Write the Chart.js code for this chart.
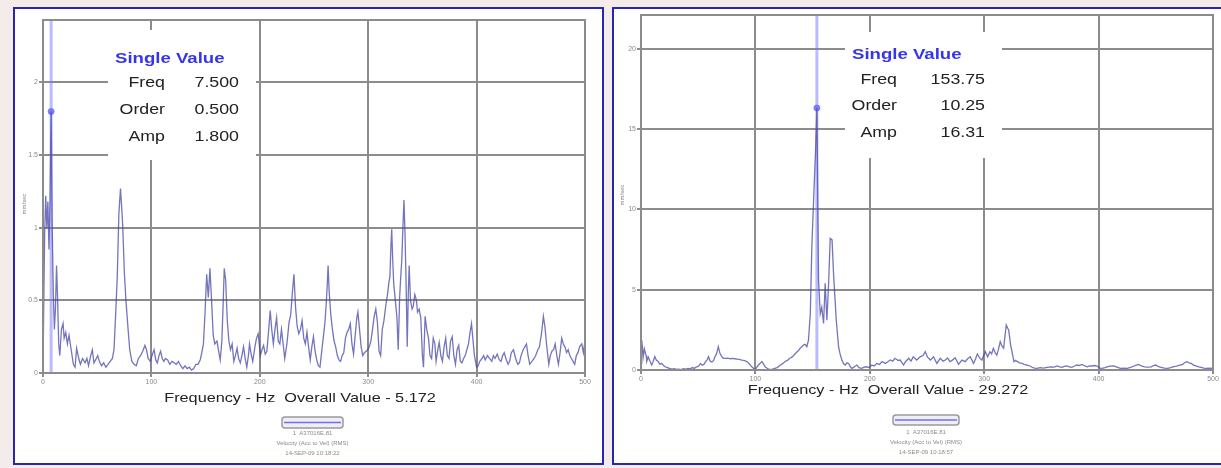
<!DOCTYPE html>
<html>
<head>
<meta charset="utf-8">
<script src="https://cdn.jsdelivr.net/npm/chart.js@4.4.1/dist/chart.umd.min.js"></script>
<style>
  html, body { margin: 0; padding: 0; width: 1221px; height: 468px; overflow: hidden; background: #f3ecea; }
  .panel { position: absolute; box-sizing: border-box; border: 2px solid #2828a8; background: #ffffff; }
  #panelLeft  { left: 13px;  top: 7px; width: 591px; height: 458px; }
  #panelRight { left: 612px; top: 7px; width: 612px; height: 458px; }
  canvas { position: absolute; left: 0; top: 0; }
</style>
</head>
<body>
<div class="panel" id="panelLeft"><canvas id="spectrumLeft" width="587" height="454"></canvas></div>
<div class="panel" id="panelRight"><canvas id="spectrumRight" width="608" height="454"></canvas></div>

<script>
// ---- Spectrum 1 (14-SEP-09 10:18:22): frequency (Hz) and amplitude (mm/sec) vertices ----
const leftFreq = [
  0, 1.5, 2.5, 3.5, 4.5, 5.5, 6.5, 7.5, 8.5, 9.5, 10.5, 11.5, 12.5, 13.5, 14.5, 15.5, 17, 18.5, 19.5, 21,
  22.5, 24, 26, 28, 29.6, 31, 33, 34.5, 36.5, 38.8, 40.5, 42, 44, 45.5, 47, 48.5, 50.5, 52, 54, 56,
  58, 60, 62, 64, 65.5, 67, 68.5, 70, 71.5, 72.5, 73.5, 75, 76.5, 78.5, 80, 82, 84, 86, 88, 90,
  92, 94, 95.5, 97, 99, 101, 102.5, 104, 105.5, 107, 108.5, 110, 111.5, 113, 115, 117, 119, 121, 123, 125,
  127, 129, 131, 133, 135, 137, 139, 141, 143, 145, 146.5, 148, 149.5, 151, 152.5, 154, 155.5, 157, 158.5, 160.5,
  162, 163.5, 165, 166.3, 167.2, 168.5, 170, 171.5, 173, 174.5, 176, 177.5, 179, 180.5, 182, 183.5, 185, 186.5, 188, 189.5,
  190.5, 192, 193.5, 195.5, 197, 198.5, 200.5, 202, 203.5, 205, 206.5, 208, 209.6, 211, 212.5, 214, 215.5, 217, 218.5, 220,
  221.5, 223, 225, 227, 228.5, 230, 231.5, 233, 234.5, 236, 237.5, 239, 240.5, 242, 243.5, 245, 246.5, 248, 249.5, 251,
  252.5, 254, 255.5, 257, 258.5, 260, 261.3, 262.3, 263, 264, 265.5, 267, 268.5, 270, 271.5, 273, 274.5, 276, 277.5, 279,
  280.5, 282, 283.5, 285, 286.5, 288, 289.5, 290.5, 292, 293.5, 295, 296.5, 298, 299.5, 301, 302.5, 304, 305.5, 307, 308.5,
  310, 311.5, 313, 314.5, 316.5, 318, 319, 320, 321, 321.7, 322.5, 323.5, 325, 326.5, 327.7, 329, 330, 331, 332, 333,
  334, 335, 336, 337, 337.8, 339, 340.5, 341.6, 343, 344.5, 345.5, 347, 348.5, 350, 351, 352.5, 354, 355.6, 357, 358.5,
  360, 361.5, 362.6, 364, 365.5, 367, 368.5, 370, 371.5, 373, 374.5, 376, 377.5, 379, 380.5, 382, 383.5, 385, 386.5, 388,
  389.5, 391, 392.5, 394, 395.3, 396.5, 398, 400, 401.5, 403, 405, 406.5, 408, 410, 412, 414, 415.5, 417, 419, 421,
  422.5, 424, 425.5, 427, 429, 430.5, 432, 434, 436, 438, 439.5, 441, 443, 444.5, 446, 447.5, 449, 451, 453, 454.5,
  456.5, 458, 460, 461.6, 463, 464.5, 466.6, 468, 469.5, 471, 472.5, 474, 475.5, 477, 478.5, 480, 481.5, 483, 484.5, 486,
  487.5, 489, 490.5, 492, 493.5, 495, 497, 498.5, 500
];
const leftAmp = [
  0.05, 0.95, 1.22, 1.0, 1.18, 0.85, 1.2, 1.8, 1.0, 0.55, 0.3, 0.45, 0.74, 0.5, 0.2, 0.12, 0.3, 0.34, 0.24, 0.28,
  0.2, 0.26, 0.16, 0.06, 0.04, 0.17, 0.1, 0.06, 0.1, 0.07, 0.1, 0.05, 0.12, 0.16, 0.07, 0.09, 0.12, 0.08, 0.05, 0.07,
  0.04, 0.06, 0.08, 0.1, 0.16, 0.4, 0.66, 1.1, 1.27, 1.15, 1.02, 0.7, 0.5, 0.3, 0.16, 0.08, 0.06, 0.05, 0.1, 0.12,
  0.15, 0.19, 0.16, 0.1, 0.08, 0.13, 0.16, 0.09, 0.07, 0.12, 0.15, 0.1, 0.08, 0.1, 0.09, 0.06, 0.08, 0.07, 0.06, 0.08,
  0.05, 0.03, 0.05, 0.03, 0.04, 0.02, 0.03, 0.06, 0.06, 0.09, 0.14, 0.2, 0.42, 0.68, 0.52, 0.72, 0.5, 0.26, 0.2, 0.22,
  0.15, 0.09, 0.22, 0.5, 0.72, 0.64, 0.36, 0.22, 0.16, 0.2, 0.08, 0.12, 0.17, 0.1, 0.07, 0.12, 0.18, 0.1, 0.04, 0.12,
  0.2, 0.13, 0.08, 0.18, 0.24, 0.27, 0.12, 0.16, 0.19, 0.13, 0.15, 0.28, 0.43, 0.3, 0.2, 0.3, 0.38, 0.22, 0.2, 0.3,
  0.2, 0.1, 0.2, 0.35, 0.4, 0.55, 0.68, 0.45, 0.32, 0.27, 0.3, 0.36, 0.24, 0.2, 0.28, 0.18, 0.09, 0.18, 0.25, 0.15,
  0.09, 0.05, 0.04, 0.14, 0.24, 0.34, 0.48, 0.62, 0.74, 0.56, 0.4, 0.3, 0.22, 0.18, 0.12, 0.09, 0.08, 0.12, 0.14, 0.24,
  0.28, 0.3, 0.34, 0.2, 0.13, 0.26, 0.38, 0.42, 0.3, 0.18, 0.12, 0.14, 0.15, 0.16, 0.18, 0.22, 0.3, 0.39, 0.44, 0.35,
  0.15, 0.12, 0.3, 0.36, 0.48, 0.55, 0.62, 0.66, 0.88, 0.99, 0.8, 0.62, 0.5, 0.38, 0.16, 0.52, 0.66, 0.78, 1.0, 1.19,
  0.95, 0.6, 0.18, 0.55, 0.74, 0.5, 0.44, 0.46, 0.54, 0.5, 0.42, 0.44, 0.38, 0.12, 0.04, 0.39, 0.3, 0.24, 0.12, 0.1,
  0.24, 0.2, 0.08, 0.15, 0.21, 0.12, 0.08, 0.18, 0.24, 0.12, 0.1, 0.22, 0.25, 0.12, 0.06, 0.16, 0.19, 0.08, 0.07, 0.1,
  0.12, 0.16, 0.2, 0.28, 0.34, 0.24, 0.12, 0.04, 0.05, 0.08, 0.1, 0.12, 0.09, 0.12, 0.1, 0.08, 0.12, 0.1, 0.13, 0.09,
  0.08, 0.12, 0.14, 0.1, 0.06, 0.08, 0.14, 0.16, 0.1, 0.06, 0.07, 0.12, 0.16, 0.18, 0.2, 0.12, 0.06, 0.08, 0.1, 0.12,
  0.16, 0.18, 0.28, 0.39, 0.32, 0.2, 0.06, 0.12, 0.15, 0.16, 0.2, 0.12, 0.06, 0.14, 0.24, 0.2, 0.18, 0.14, 0.16, 0.12,
  0.1, 0.08, 0.06, 0.12, 0.14, 0.18, 0.2, 0.14, 0.22
];

// ---- Spectrum 2 (14-SEP-09 10:18:57) ----
const rightFreq = [
  0, 0.6, 1.5, 2, 3, 3.5, 4.5, 5, 6.4, 7.5, 9.3, 10.5, 12, 13.5, 15, 16.5, 18, 19.5, 21, 23,
  25, 27, 29, 31, 33, 35, 37, 39, 41, 43, 45, 46.5, 48.7, 50.5, 52, 53.5, 55, 56.5, 58, 59,
  60.5, 62, 63.5, 64.7, 66, 67.6, 69, 70.5, 72, 74, 76, 78, 80, 82, 84, 86, 88, 90, 92.4, 94.5,
  96.8, 98.5, 99.7, 101, 102.6, 104, 105.6, 107, 108.5, 110, 111.5, 113, 115, 117, 119, 121.6, 123.5, 126, 128, 130,
  132, 134, 136, 137.5, 139, 140.5, 142, 143.5, 145, 146.4, 148, 149.3, 151, 152.5, 153.75, 155.2, 156.7, 158, 159.6, 161,
  162.5, 164, 165.4, 167, 168.3, 170.7, 172.7, 174, 175.6, 177, 178.5, 180, 181.5, 183, 184.5, 186.5, 188.7, 190.5, 193, 195,
  197, 199.5, 201.8, 204, 206, 208.5, 210.6, 213.5, 215.5, 218, 220, 222, 224.5, 226.6, 229.5, 231, 234, 236, 238, 241,
  244, 246.5, 248.5, 250.5, 253, 255.7, 258.6, 261.6, 264, 266, 268, 270, 272, 274.6, 277.6, 280.5, 283.4, 285.5, 287.8, 290.7,
  292.5, 294, 296, 298, 299.5, 301, 303, 305, 306.5, 308, 309.5, 311, 312.5, 314, 315.5, 317, 318.3, 319.3, 320.5, 321.4,
  323, 324.3, 326, 327.5, 329, 331, 333, 335, 337.5, 340, 341.9, 344, 346, 349, 352, 355, 358, 361, 364, 366,
  368, 370, 372, 374.5, 376.6, 379, 381, 383, 385.5, 388, 390, 392, 394, 396.5, 398.7, 401, 403, 405.5, 407.5, 410,
  413.4, 416, 419, 422, 425, 428, 431, 433, 435, 437.5, 440, 443, 446, 448, 450, 452, 454.6, 457.5, 460.5, 463,
  465, 467, 469, 471, 473.5, 475, 477, 479, 481, 483, 485, 487.5, 489.7, 492, 494, 496, 498.5, 500
];
const rightAmp = [
  0.4, 1.86, 1.3, 0.84, 1.3, 1.15, 0.9, 0.53, 0.8, 0.6, 0.31, 0.5, 0.84, 0.6, 0.53, 0.35, 0.42, 0.3, 0.2, 0.15,
  0.1, 0.06, 0.08, 0.04, 0.06, 0.03, 0.08, 0.05, 0.1, 0.07, 0.15, 0.1, 0.2, 0.25, 0.41, 0.3, 0.35, 0.52, 0.65, 0.84,
  0.55, 0.5, 0.6, 0.84, 1.0, 1.45, 1.04, 0.85, 0.73, 0.72, 0.74, 0.7, 0.72, 0.7, 0.68, 0.66, 0.62, 0.6, 0.53, 0.4,
  0.2, 0.1, 0.02, 0.15, 0.31, 0.4, 0.53, 0.4, 0.2, 0.12, 0.06, 0.03, 0.05, 0.1, 0.15, 0.3, 0.38, 0.53, 0.6, 0.73,
  0.8, 0.95, 1.1, 1.2, 1.35, 1.45, 1.55, 1.6, 1.45, 1.86, 3.5, 7.6, 10.8, 13.5, 16.31, 5.6, 3.5, 3.9, 2.9, 5.4,
  3.1, 5.4, 8.2, 8.1, 6.0, 3.1, 1.45, 1.0, 0.62, 0.4, 0.31, 0.45, 0.41, 0.2, 0.1, 0.2, 0.31, 0.15, 0.1, 0.18,
  0.2, 0.15, 0.31, 0.25, 0.41, 0.35, 0.53, 0.41, 0.5, 0.62, 0.55, 0.73, 0.6, 0.62, 0.31, 0.5, 0.73, 0.55, 0.82, 0.62,
  0.82, 0.9, 1.14, 0.8, 0.62, 0.82, 0.41, 0.73, 0.55, 0.62, 0.75, 0.52, 0.6, 0.76, 0.35, 0.62, 0.52, 0.7, 0.82, 0.41,
  0.7, 1.0, 0.75, 0.62, 0.9, 1.14, 0.82, 1.14, 1.0, 1.35, 1.1, 0.93, 1.3, 1.76, 1.5, 1.35, 2.2, 2.8, 2.6, 2.5,
  1.6, 1.14, 0.52, 0.6, 0.52, 0.45, 0.41, 0.35, 0.31, 0.25, 0.17, 0.12, 0.1, 0.15, 0.12, 0.16, 0.2, 0.18, 0.25, 0.2,
  0.17, 0.22, 0.25, 0.2, 0.17, 0.25, 0.31, 0.28, 0.35, 0.25, 0.2, 0.26, 0.25, 0.28, 0.25, 0.12, 0.1, 0.15, 0.2, 0.24,
  0.25, 0.18, 0.1, 0.12, 0.1, 0.16, 0.25, 0.3, 0.35, 0.25, 0.2, 0.18, 0.2, 0.28, 0.31, 0.22, 0.17, 0.12, 0.1, 0.15,
  0.2, 0.22, 0.25, 0.3, 0.35, 0.45, 0.52, 0.45, 0.41, 0.3, 0.25, 0.2, 0.17, 0.12, 0.1, 0.12, 0.1, 0.15
];

// ---- Axis ticks ----
const freqTicks = [0, 100, 200, 300, 400, 500];
const leftAmpTicks = [0, 0.5, 1, 1.5, 2];
const rightAmpTicks = [0, 5, 10, 15, 20];

// ---- Cursor read-outs: Freq (Hz), Order, Amp ----
const readoutNames = ['Freq', 'Order', 'Amp'];
const leftReadout = [7.5, 0.5, 1.8];
const rightReadout = [153.75, 10.25, 16.31];

// ---- Overall values and legend captions ----
const overallValues = [5.172, 29.272];
const pointName = '1  A37016E.81';
const measureName = 'Velocity (Acc to Vel) (RMS)';
const timeStamps = ['14-SEP-09 10:18:22', '14-SEP-09 10:18:57'];

const FONT = "'Liberation Sans', Arial, sans-serif";
const GRID = '#8c8c8c';

// text drawn with a horizontal stretch, as the analyser printout renders it
function wideText(ctx, str, x, y, align, sx) {
  ctx.save();
  ctx.translate(x, y);
  ctx.scale(sx, 1);
  ctx.textAlign = align;
  ctx.textBaseline = 'middle';
  ctx.fillText(str, 0, 0);
  ctx.restore();
}

const panelDecor = {
  id: 'panelDecor',
  beforeDatasetsDraw(chart, args, o) {
    const ctx = chart.ctx, a = chart.chartArea, xs = chart.scales.x;
    ctx.save();
    // read-out box sits over the grid
    ctx.fillStyle = '#ffffff';
    ctx.fillRect(o.box[0], o.box[1], o.box[2], o.box[3]);
    // cursor line at the read-out frequency
    const cx = xs.getPixelForValue(o.readout[0]);
    ctx.strokeStyle = 'rgba(120,120,255,0.5)';
    ctx.lineWidth = 3;
    ctx.beginPath();
    ctx.moveTo(cx, a.top);
    ctx.lineTo(cx, a.bottom);
    ctx.stroke();
    ctx.restore();
  },
  afterDraw(chart, args, o) {
    const ctx = chart.ctx, a = chart.chartArea;
    ctx.save();
    // plot frame
    ctx.strokeStyle = GRID;
    ctx.lineWidth = 2;
    ctx.strokeRect(a.left, a.top, a.right - a.left, a.bottom - a.top);

    // read-out text
    ctx.fillStyle = '#3535ee';
    ctx.font = 'bold 15px ' + FONT;
    wideText(ctx, 'Single Value', o.headX, o.headY, 'left', 1.24);
    ctx.fillStyle = '#222222';
    ctx.font = '14px ' + FONT;
    readoutNames.forEach((name, i) => {
      const y = o.rowY[i];
      wideText(ctx, name, o.nameRight, y, 'right', 1.27);
      wideText(ctx, o.readout[i].toFixed(o.digits), o.valueRight, y, 'right', 1.27);
    });

    // axis caption
    ctx.fillStyle = '#222222';
    ctx.font = '13px ' + FONT;
    wideText(ctx, 'Frequency - Hz  Overall Value - ' + o.overall.toFixed(3), o.titleX, o.titleY, 'center', 1.25);

    // vertical units caption
    ctx.save();
    ctx.translate(o.unitX, o.unitY);
    ctx.rotate(-Math.PI / 2);
    ctx.fillStyle = '#888888';
    ctx.font = '6px ' + FONT;
    ctx.textAlign = 'center';
    ctx.textBaseline = 'middle';
    ctx.fillText('mm/sec', 0, 0);
    ctx.restore();

    // legend swatch
    const [lx, ly, lw, lh] = o.legend;
    ctx.fillStyle = '#eeeefa';
    ctx.strokeStyle = '#9a9a9a';
    ctx.lineWidth = 1.5;
    ctx.beginPath();
    ctx.roundRect(lx, ly, lw, lh, 3);
    ctx.fill();
    ctx.stroke();
    ctx.strokeStyle = '#7070e0';
    ctx.lineWidth = 1.5;
    ctx.beginPath();
    ctx.moveTo(lx + 2, ly + lh / 2);
    ctx.lineTo(lx + lw - 2, ly + lh / 2);
    ctx.stroke();

    ctx.fillStyle = '#8a8a8a';
    ctx.font = '6px ' + FONT;
    ctx.textAlign = 'center';
    ctx.textBaseline = 'middle';
    const cx = lx + lw / 2 + o.captionShift;
    ctx.fillText(pointName, cx, o.captionY[0]);
    ctx.fillText(measureName, cx, o.captionY[1]);
    ctx.fillText(o.stamp, cx, o.captionY[2]);
    ctx.restore();
  }
};

function buildChart(id, freq, amp, ampMax, ampTicks, readout, geom, deco) {
  const spectrum = freq.map((f, i) => ({ x: f, y: amp[i] }));
  const tickFont = { family: FONT, size: 7 };
  return new Chart(document.getElementById(id), {
    type: 'line',
    data: {
      datasets: [
        {
          data: spectrum,
          borderColor: 'rgba(70,70,165,0.75)',
          borderWidth: 1.3,
          pointRadius: 0,
          tension: 0,
          fill: false
        },
        {
          data: [{ x: readout[0], y: readout[2] }],
          showLine: false,
          pointRadius: 3,
          pointBackgroundColor: 'rgba(110,110,255,0.85)',
          pointBorderColor: 'rgba(110,110,255,0.85)'
        }
      ]
    },
    options: {
      responsive: false,
      animation: false,
      devicePixelRatio: 1,
      layout: { padding: { left: 0, top: geom.top, right: geom.right, bottom: 0 } },
      plugins: {
        legend: { display: false },
        tooltip: { enabled: false },
        panelDecor: deco
      },
      scales: {
        x: {
          type: 'linear',
          min: 0,
          max: 500,
          afterBuildTicks: s => { s.ticks = freqTicks.map(v => ({ value: v })); },
          afterFit: s => { s.height = geom.xHeight; },
          grid: { color: GRID, lineWidth: 2, tickLength: 4 },
          border: { color: GRID, width: 2 },
          ticks: { font: tickFont, color: '#8a8a8a', padding: 1, maxRotation: 0, autoSkip: false,
                   callback: v => String(v) }
        },
        y: {
          type: 'linear',
          min: 0,
          max: ampMax,
          afterBuildTicks: s => { s.ticks = ampTicks.map(v => ({ value: v })); },
          afterFit: s => { s.width = geom.yWidth; },
          grid: { color: GRID, lineWidth: 2, tickLength: 4 },
          border: { color: GRID, width: 2 },
          ticks: { font: tickFont, color: '#8a8a8a', padding: 1, autoSkip: false,
                   callback: v => String(v) }
        }
      }
    },
    plugins: [panelDecor]
  });
}

buildChart('spectrumLeft', leftFreq, leftAmp, 2.43, leftAmpTicks, leftReadout,
  { top: 11, right: 17, xHeight: 90, yWidth: 28 },
  {
    readout: leftReadout, digits: 3,
    box: [93, 21, 148, 130],
    headX: 100, headY: 50,
    nameRight: 150, valueRight: 224, rowY: [74, 101, 128],
    overall: overallValues[0], titleX: 285, titleY: 389,
    unitX: 9, unitY: 195,
    legend: [267, 408, 61, 11], captionShift: 0, captionY: [424, 434, 444],
    stamp: timeStamps[0]
  });

buildChart('spectrumRight', rightFreq, rightAmp, 22.1, rightAmpTicks, rightReadout,
  { top: 6, right: 9, xHeight: 93, yWidth: 27 },
  {
    readout: rightReadout, digits: 2,
    box: [231, 23, 157, 126],
    headX: 238, headY: 46,
    nameRight: 283, valueRight: 371, rowY: [71, 97, 124],
    overall: overallValues[1], titleX: 274, titleY: 381,
    unitX: 8, unitY: 186,
    legend: [279, 406, 66, 10], captionShift: 0, captionY: [423, 433, 443],
    stamp: timeStamps[1]
  });
</script>
</body>
</html>
